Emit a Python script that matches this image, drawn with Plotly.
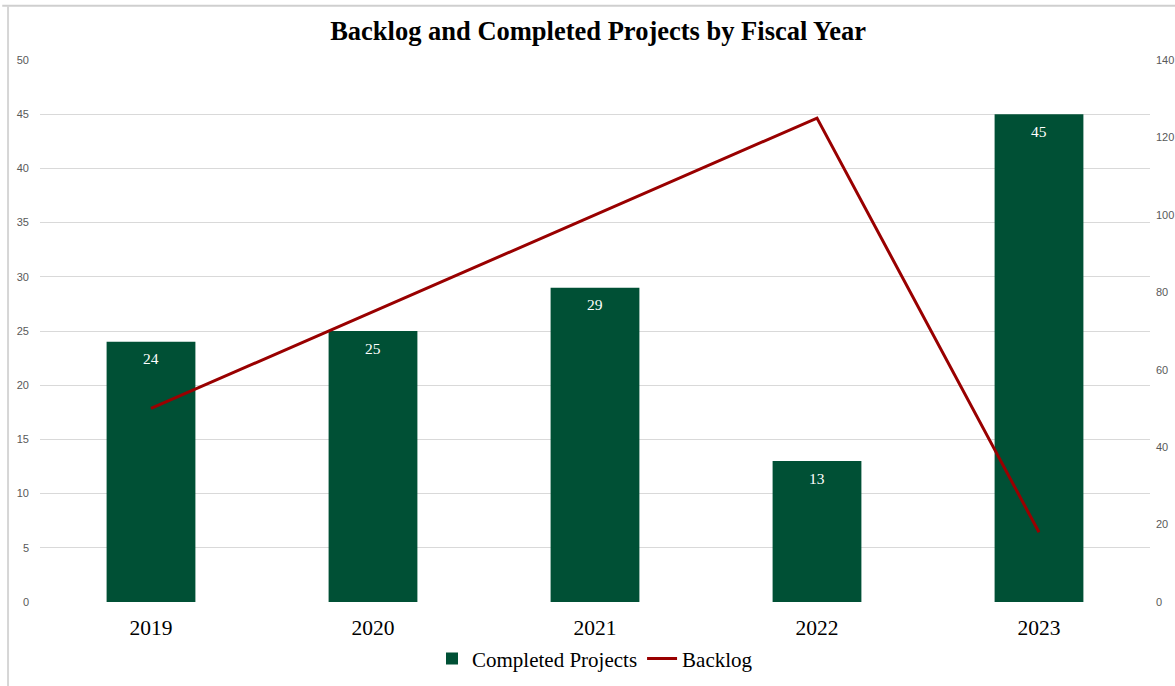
import plotly.graph_objects as go

# Fiscal-year figures
years = ["2019", "2020", "2021", "2022", "2023"]
completed_projects = [24, 25, 29, 13, 45]
backlog = [50, 75, 100, 125, 18]

left_ticks = [0, 5, 10, 15, 20, 25, 30, 35, 40, 45, 50]
right_ticks = [0, 20, 40, 60, 80, 100, 120, 140]

GREEN = "#005035"
RED = "#990000"
SERIF = "Liberation Serif"
SANS = "Liberation Sans"

fig = go.Figure()

fig.add_trace(go.Bar(
    x=years,
    y=completed_projects,
    name="Completed Projects",
    marker=dict(color=GREEN, line=dict(width=0)),
    yaxis="y",
))

fig.add_trace(go.Scatter(
    x=years,
    y=backlog,
    name="Backlog",
    mode="lines",
    line=dict(color=RED, width=3),
    yaxis="y2",
))

# value labels just below the top of each bar
# (category axis: annotations are placed by category index)
for idx, val in enumerate(completed_projects):
    fig.add_annotation(
        x=idx, y=val, xref="x", yref="y",
        text=str(val), showarrow=False, yshift=-17,
        font=dict(family=SERIF, size=15.5, color="white"),
    )

# outer frame of the chart area
fig.add_shape(type="line", xref="paper", yref="paper",
              x0=-0.034, x1=1.03, y0=1.1, y1=1.1,
              line=dict(color="#cfcfcf", width=2), layer="below")
fig.add_shape(type="line", xref="paper", yref="paper",
              x0=-0.0288, x1=-0.0288, y0=-0.16, y1=1.1,
              line=dict(color="#d6d6d6", width=2), layer="below")

fig.update_layout(
    width=1175,
    height=686,
    margin=dict(l=40, r=25, t=60, b=84, autoexpand=False),
    paper_bgcolor="white",
    plot_bgcolor="white",
    bargap=0.6,
    title=dict(
        text="<b>Backlog and Completed Projects by Fiscal Year</b>",
        x=0.509, xanchor="center", y=0.955, yanchor="middle",
        font=dict(family=SERIF, size=26.5, color="black"),
    ),
    xaxis=dict(
        type="category",
        categoryorder="array",
        categoryarray=years,
        range=[-0.5, len(years) - 0.5],
        showgrid=False,
        showline=False,
        ticks="",
        automargin=False,
        tickfont=dict(family=SERIF, size=21.5, color="black"),
        ticklabelstandoff=10,
    ),
    yaxis=dict(
        range=[0, 50],
        tickvals=left_ticks,
        showgrid=True,
        gridcolor="#d9d9d9",
        gridwidth=1,
        zeroline=False,
        showline=False,
        ticks="",
        automargin=False,
        tickfont=dict(family=SANS, size=11, color="#595959"),
        ticklabelstandoff=10,
    ),
    yaxis2=dict(
        range=[0, 140],
        tickvals=right_ticks,
        overlaying="y",
        side="right",
        showgrid=False,
        zeroline=False,
        showline=False,
        ticks="",
        automargin=False,
        tickfont=dict(family=SANS, size=11, color="#595959"),
        ticklabelstandoff=5,
    ),
    legend=dict(
        orientation="h",
        x=0.5, xanchor="center",
        y=-0.105, yanchor="middle",
        font=dict(family=SERIF, size=21, color="black"),
        itemwidth=30,
        traceorder="normal",
    ),
    showlegend=True,
)

fig.write_html("out.html")
